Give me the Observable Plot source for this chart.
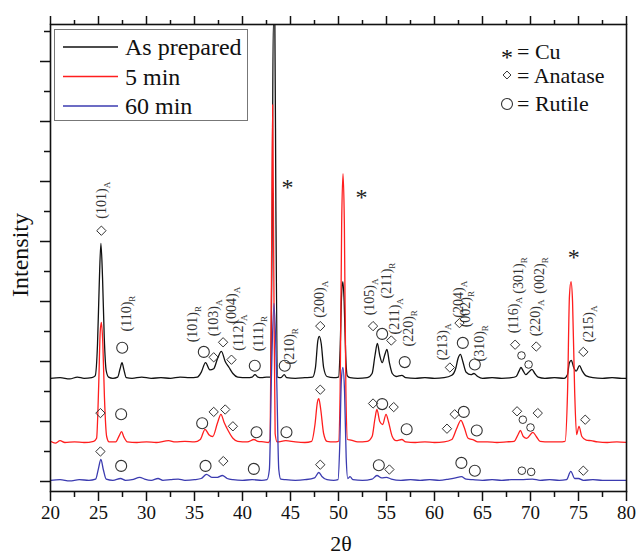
<!DOCTYPE html>
<html>
<head>
<meta charset="utf-8">
<script src="https://cdn.jsdelivr.net/npm/d3@7"></script>
<script src="https://cdn.jsdelivr.net/npm/@observablehq/plot@0.6"></script>
<style>
  html, body { margin: 0; padding: 0; background: #fff; }
  #chart svg { display: block; }
</style>
</head>
<body>
<div id="chart"></div>
<script>
// ---------- data ----------
const seriesNames = ["As prepared", "5 min", "60 min"];
const seriesColors = ["#111111", "#ff1e1e", "#3b3bb0"];

const asPrepared = [[20,1.72],[21,1.73],[22,1.71],[22.8,1.74],[23.5,1.72],[24.3,1.73],[24.65,1.76],[24.9,2.3],[25.08,3.3],[25.25,3.97],[25.42,3.4],[25.6,2.4],[25.8,1.85],[26.05,1.74],[26.5,1.72],[27.0,1.74],[27.25,1.88],[27.45,1.98],[27.65,1.86],[27.9,1.73],[28.5,1.72],[29.5,1.74],[30.5,1.72],[31.5,1.73],[32.5,1.72],[33.5,1.74],[34.5,1.73],[35.3,1.74],[35.7,1.82],[36.15,1.98],[36.6,1.86],[37.0,1.88],[37.4,2.05],[37.8,2.17],[38.2,2.0],[38.6,1.9],[39.0,1.8],[39.5,1.74],[40.5,1.73],[41.0,1.74],[41.3,1.78],[41.6,1.74],[42.0,1.73],[42.5,1.74],[42.95,1.74],[43.1,4.5],[43.2,7.62],[43.37,7.62],[43.48,4.5],[43.65,1.74],[44.0,1.73],[44.35,1.78],[44.6,1.73],[45.5,1.72],[46.5,1.73],[47.3,1.74],[47.6,1.9],[47.85,2.35],[48.0,2.42],[48.2,2.3],[48.45,1.9],[48.8,1.75],[49.5,1.73],[50.0,1.74],[50.17,2.2],[50.32,3.1],[50.45,3.33],[50.59,3.0],[50.75,2.1],[50.92,1.76],[51.2,1.73],[52,1.72],[53,1.73],[53.5,1.8],[53.8,2.1],[54.05,2.30],[54.3,2.1],[54.55,1.98],[54.8,2.1],[55.05,2.2],[55.3,1.98],[55.6,1.8],[56,1.75],[56.6,1.77],[57,1.73],[58,1.72],[59,1.73],[60,1.72],[61,1.73],[61.8,1.77],[62.2,1.88],[62.45,2.05],[62.7,2.12],[62.95,2.0],[63.3,1.82],[63.8,1.78],[64.1,1.8],[64.5,1.75],[65,1.72],[66,1.73],[67,1.72],[68,1.73],[68.5,1.75],[68.8,1.84],[69.0,1.9],[69.25,1.84],[69.5,1.78],[69.8,1.82],[70.15,1.87],[70.45,1.8],[70.8,1.74],[71.5,1.72],[72.5,1.73],[73.5,1.72],[73.85,1.78],[74.05,1.98],[74.25,2.02],[74.5,1.9],[74.75,1.84],[75.1,1.93],[75.4,1.84],[75.8,1.76],[76.5,1.73],[77.5,1.72],[78.5,1.73],[79.5,1.72],[80,1.72]];

const min5 = [[20,0.67],[20.5,0.64],[21,0.68],[21.5,0.65],[22.5,0.66],[23.5,0.65],[24.5,0.67],[24.8,0.72],[25.02,1.6],[25.18,2.5],[25.3,2.65],[25.45,2.3],[25.62,1.4],[25.85,0.75],[26.1,0.66],[26.8,0.66],[27.15,0.76],[27.4,0.83],[27.65,0.74],[28,0.66],[29,0.65],[30,0.66],[31,0.65],[32.3,0.68],[33,0.66],[34,0.67],[35,0.66],[35.6,0.7],[36.1,0.87],[36.5,0.78],[36.9,0.75],[37.4,0.98],[37.75,1.12],[38.1,0.98],[38.5,0.85],[39,0.72],[39.5,0.67],[40.5,0.66],[41.2,0.7],[41.6,0.67],[42.2,0.66],[42.7,0.65],[42.88,0.7],[43.02,3.5],[43.14,6.28],[43.26,3.5],[43.4,0.8],[43.6,0.66],[44.5,0.68],[45.5,0.66],[46.5,0.65],[47.2,0.67],[47.55,0.95],[47.8,1.32],[47.95,1.38],[48.15,1.2],[48.45,0.8],[48.8,0.67],[49.5,0.66],[50.0,0.67],[50.17,1.5],[50.33,4.3],[50.47,5.13],[50.61,4.3],[50.77,1.5],[50.94,0.7],[51.3,0.69],[52,0.66],[53,0.67],[53.5,0.75],[53.8,1.05],[54.0,1.2],[54.3,1.0],[54.6,0.95],[54.95,1.12],[55.2,1.0],[55.6,0.75],[56,0.68],[56.6,0.7],[57,0.66],[58,0.65],[59,0.66],[60,0.65],[61,0.66],[61.8,0.7],[62.3,0.88],[62.75,1.02],[63.1,0.9],[63.5,0.72],[64.1,0.69],[64.5,0.66],[65.5,0.66],[66.5,0.65],[67.5,0.66],[68.3,0.67],[68.7,0.78],[68.95,0.85],[69.25,0.75],[69.6,0.72],[70.25,0.82],[70.6,0.75],[71,0.67],[72,0.66],[73,0.66],[73.6,0.67],[73.86,1.5],[74.06,3.1],[74.22,3.33],[74.38,3.0],[74.6,1.5],[74.8,0.78],[75.05,0.92],[75.35,0.75],[75.8,0.69],[76.3,0.68],[77,0.66],[78,0.65],[79,0.66],[80,0.65]];

const min60 = [[20,0.02],[21,0.03],[22,0.01],[23,0.03],[24,0.02],[24.7,0.04],[25.0,0.22],[25.25,0.37],[25.5,0.2],[25.8,0.04],[26.5,0.02],[27.3,0.05],[27.8,0.02],[28.5,0.03],[29.3,0.07],[29.8,0.04],[30.5,0.02],[31.2,0.05],[31.7,0.02],[32.5,0.03],[33.3,0.04],[34,0.02],[35,0.03],[35.7,0.05],[36.25,0.12],[36.8,0.07],[37.4,0.07],[37.9,0.1],[38.4,0.05],[39,0.03],[40,0.02],[41,0.03],[42,0.02],[42.55,0.03],[42.8,0.2],[43.02,1.8],[43.28,2.97],[43.55,1.8],[43.78,0.2],[43.98,0.04],[44.5,0.03],[45.5,0.02],[46.5,0.03],[47.5,0.06],[47.95,0.15],[48.3,0.08],[48.8,0.03],[49.5,0.02],[49.95,0.03],[50.13,0.6],[50.3,1.7],[50.46,1.9],[50.63,1.5],[50.8,0.4],[50.97,0.05],[51.2,0.08],[51.5,0.03],[52.5,0.02],[53.5,0.04],[54.0,0.1],[54.5,0.06],[55.0,0.07],[55.5,0.04],[56.5,0.02],[57.5,0.03],[58.5,0.02],[59.5,0.03],[60.5,0.02],[61.5,0.04],[62.2,0.06],[62.8,0.08],[63.3,0.04],[64,0.03],[65,0.02],[66,0.03],[67,0.02],[68,0.03],[69,0.03],[70.2,0.04],[71,0.02],[72,0.03],[73,0.02],[73.75,0.03],[74.2,0.17],[74.6,0.05],[75,0.05],[75.5,0.02],[76.5,0.03],[77.5,0.02],[78.5,0.02],[80,0.02]];

// phase markers [2θ, intensity]
const anatase = [[25.3,4.18],[37.0,2.07],[37.98,2.32],[38.85,2.03],[48.1,2.59],[53.6,2.59],[55.5,2.35],[61.6,1.9],[62.6,2.64],[68.4,2.28],[70.6,2.25],[75.5,2.16],
  [25.2,1.14],[37.0,1.16],[38.2,1.2],[39.0,0.92],[48.1,1.53],[53.6,1.3],[55.75,1.24],[61.3,0.88],[62.1,1.12],[68.6,1.17],[70.76,1.14],[75.7,1.03],
  [25.2,0.5],[38.0,0.34],[48.1,0.28],[55.3,0.2],[75.5,0.18]];
const rutile = [[27.47,2.23],[35.97,2.16],[41.28,1.93],[44.4,1.93],[54.55,2.46],[56.9,1.99],[62.95,2.31],[64.2,1.95],
  [27.36,1.12],[35.8,0.97],[41.46,0.82],[44.58,0.82],[54.55,1.29],[57.1,0.87],[63.05,1.16],[64.4,0.85],
  [27.36,0.26],[36.15,0.26],[41.18,0.21],[54.2,0.27],[62.8,0.31],[64.2,0.18]];
const rutileSmall = [[69.06,2.1],[69.8,1.95],[69.2,1.03],[70.0,0.9],[69.1,0.18],[70.07,0.16]];
const copper = [[44.7,5.0],[52.4,4.84],[74.5,3.84]];

// hkl labels: [2θ, intensity at start of text, text]
const hklLabels = [
  [25.3,4.38,"(101)_A"],[27.9,2.5,"(110)_R"],[34.8,2.32,"(101)_R"],[37.0,2.42,"(103)_A"],
  [38.85,2.63,"(004)_A"],[39.6,2.18,"(112)_A"],[41.7,2.17,"(111)_R"],[44.85,1.95,"(210)_R"],
  [48.05,2.73,"(200)_A"],[53.2,2.77,"(105)_A"],[55.0,3.05,"(211)_R"],[55.8,2.45,"(211)_A"],
  [57.3,2.25,"(220)_R"],[60.8,2.02,"(213)_A"],[62.5,2.73,"(204)_A"],[63.2,2.57,"(002)_R"],
  [64.7,2.0,"(310)_R"],[68.2,2.47,"(116)_A"],[68.75,3.13,"(301)_R"],[70.95,3.13,"(002)_R"],
  [70.5,2.42,"(220)_A"],[76.0,2.32,"(215)_A"]
];

const xMajor = [20,25,30,35,40,45,50,55,60,65,70,75,80];
const xMinor = [22.5,27.5,32.5,37.5,42.5,47.5,52.5,57.5,62.5,67.5,72.5,77.5];
const yMajor = [0,1,2,3,4,5,6,7];
const yMinor = [0.5,1.5,2.5,3.5,4.5,5.5,6.5,7.5];
const xLabel = "2θ";
const yLabel = "Intensity";
const phaseLegend = [["*","= Cu"],["diamond","= Anatase"],["circle","= Rutile"]];

// ---------- build ----------
const traces = [asPrepared, min5, min60];
const table = traces.flatMap((pts, i) => pts.map(([x, y]) => ({x, y, series: seriesNames[i]})));
const toObj = arr => arr.map(([x, y]) => ({x, y}));
const serif = "'Liberation Serif', 'Times New Roman', serif";
const markColor = "#333";

const plot = Plot.plot({
  width: 636,
  height: 558,
  marginLeft: 50,
  marginRight: 10,
  marginTop: 24,
  marginBottom: 67,
  style: {fontFamily: serif, background: "#fff", color: "#111"},
  x: {domain: [20, 80]},
  y: {domain: [-1/6, 7.6167]},
  color: {domain: seriesNames, range: seriesColors},
  marks: [
    Plot.line(table, {x: "x", y: "y", z: "series", stroke: "series", strokeWidth: 1.3, curve: "monotone-x", clip: true}),
    Plot.dot(toObj(anatase), {x: "x", y: "y", symbol: "diamond2", r: 4.2, stroke: markColor, strokeWidth: 1, fill: "none"}),
    Plot.dot(toObj(rutile), {x: "x", y: "y", symbol: "circle", r: 5.5, stroke: markColor, strokeWidth: 1.1, fill: "none"}),
    Plot.dot(toObj(rutileSmall), {x: "x", y: "y", symbol: "circle", r: 3.8, stroke: markColor, strokeWidth: 1, fill: "none"}),
    Plot.text(toObj(copper), {x: "x", y: "y", text: () => "*", fontSize: 24, dy: 6, fill: "#222"}),
    Plot.text(hklLabels, {x: d => d[0], y: d => d[1], text: d => d[2], rotate: -90, textAnchor: "start", lineAnchor: "middle", fontSize: 14, fill: "#333"}),
    Plot.axisX({anchor: "bottom", ticks: xMajor, tickSize: 10, tickPadding: 4, strokeWidth: 1.5, fontSize: 19, label: null, tickFormat: d => String(d), fill: "#111"}),
    Plot.axisX({anchor: "bottom", ticks: xMinor, tickSize: 6, strokeWidth: 1.5, label: null, tickFormat: () => ""}),
    Plot.axisX({anchor: "top", ticks: xMajor, tickSize: 9, strokeWidth: 1.5, label: null, tickFormat: () => ""}),
    Plot.axisX({anchor: "top", ticks: xMinor, tickSize: 5, strokeWidth: 1.5, label: null, tickFormat: () => ""}),
    Plot.axisY({anchor: "left", ticks: yMajor, tickSize: 10, strokeWidth: 1.5, label: null, tickFormat: () => ""}),
    Plot.axisY({anchor: "left", ticks: yMinor, tickSize: 6, strokeWidth: 1.5, label: null, tickFormat: () => ""}),
    Plot.frame({stroke: "#111", strokeWidth: 1.6})
  ]
});

const svg = d3.select(plot);

// subscripts for hkl labels
svg.selectAll("text").each(function() {
  const t = this.textContent;
  if (t.includes("_") && this.childElementCount === 0) {
    const [main, sub] = t.split("_");
    this.textContent = main;
    const ts = document.createElementNS("http://www.w3.org/2000/svg", "tspan");
    ts.setAttribute("font-size", "9");
    ts.setAttribute("dy", "4");
    ts.textContent = sub;
    this.appendChild(ts);
  }
});

// axis titles
const at = svg.append("g").attr("font-family", serif).attr("fill", "#111").attr("text-anchor", "middle");
at.append("text").attr("x", 341).attr("y", 551).attr("font-size", 22).text(xLabel);
at.append("text").attr("transform", "translate(28,255) rotate(-90)").attr("font-size", 24).text(yLabel);

// series legend (top-left box)
const lg = svg.append("g").attr("font-family", serif).attr("text-anchor", "start");
lg.append("rect").attr("x", 54.5).attr("y", 29.5).attr("width", 193).attr("height", 91)
  .attr("fill", "#fff").attr("stroke", "#777").attr("stroke-width", 1);
seriesNames.forEach((name, i) => {
  const y = 47 + i * 29.5;
  lg.append("line").attr("x1", 63).attr("x2", 118).attr("y1", y).attr("y2", y)
    .attr("stroke", seriesColors[i]).attr("stroke-width", 1.5);
  lg.append("text").attr("x", 125).attr("y", y + 8).attr("font-size", 24).attr("fill", "#111").text(name);
});

// phase legend (top-right)
const pl = svg.append("g").attr("font-family", serif).attr("fill", "#111").attr("text-anchor", "start");
phaseLegend.forEach(([sym, label], i) => {
  const base = [59, 83, 111][i];
  if (sym === "*") {
    pl.append("text").attr("x", 507).attr("y", base + 6).attr("font-size", 24).attr("text-anchor", "middle").text("*");
  } else if (sym === "diamond") {
    pl.append("path").attr("d", d3.symbol(d3.symbolDiamond2, 40)()).attr("transform", `translate(507,${base - 8})`)
      .attr("fill", "none").attr("stroke", "#333").attr("stroke-width", 1);
  } else {
    pl.append("circle").attr("cx", 507).attr("cy", base - 7).attr("r", 5.5)
      .attr("fill", "none").attr("stroke", "#333").attr("stroke-width", 1.1);
  }
  pl.append("text").attr("x", 517).attr("y", base).attr("font-size", 22).text(label);
});

document.getElementById("chart").appendChild(plot);
</script>
</body>
</html>
